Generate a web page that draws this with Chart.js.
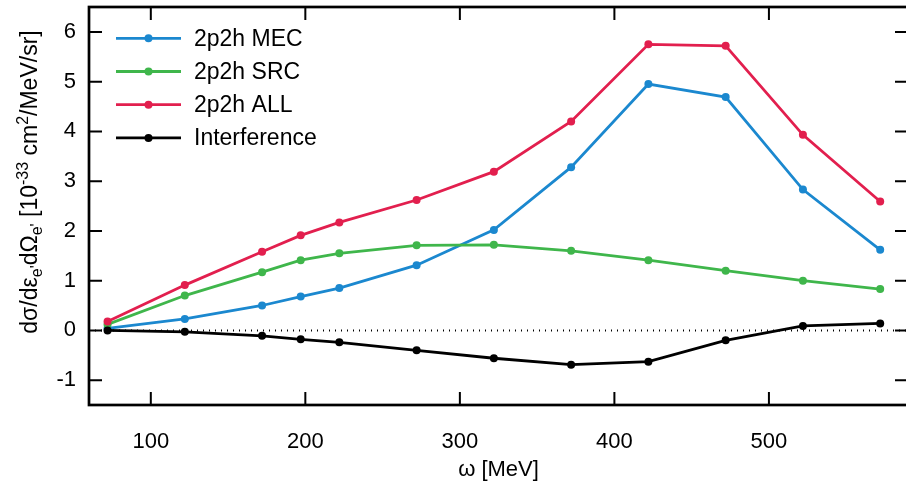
<!DOCTYPE html>
<html>
<head>
<meta charset="utf-8">
<script src="https://cdn.jsdelivr.net/npm/chart.js@4.4.0/dist/chart.umd.min.js"></script>
<style>
  html, body { margin: 0; padding: 0; background: #fff; overflow: hidden; }
  #wrap { width: 912px; height: 486px; }
</style>
</head>
<body>
<div id="wrap"><canvas id="myChart" width="912" height="486"></canvas></div>
<script>
// omega in MeV, cross sections in 10^-33 cm^2/MeV/sr
let omega = [72, 122, 172, 197, 222, 272, 322, 372, 422, 472, 522, 572];
let mecValues = [0.04, 0.23, 0.50, 0.68, 0.85, 1.31, 2.02, 3.28, 4.95, 4.69, 2.83, 1.62];
let srcValues = [0.12, 0.70, 1.17, 1.41, 1.55, 1.71, 1.72, 1.60, 1.41, 1.20, 1.00, 0.83];
let allValues = [0.18, 0.91, 1.58, 1.91, 2.17, 2.62, 3.19, 4.20, 5.75, 5.72, 3.93, 2.59];
let interferenceValues = [0.00, -0.03, -0.11, -0.18, -0.24, -0.40, -0.56, -0.69, -0.63, -0.20, 0.09, 0.14];

let seriesNames = ["2p2h MEC", "2p2h SRC", "2p2h ALL", "Interference"];
let seriesColors = ["#1b88cf", "#3fb64b", "#e21f4e", "#000000"];
let xTickValues = [100, 200, 300, 400, 500];
let yTickValues = [-1, 0, 1, 2, 3, 4, 5, 6];

const FONT = "'Liberation Sans', Arial, sans-serif";

function toPoints(values) {
    return values.map(function (v, i) { return { x: omega[i], y: v }; });
}

let allSeries = [mecValues, srcValues, allValues, interferenceValues];
let datasets = allSeries.map(function (values, i) {
    return {
        label: seriesNames[i],
        data: toPoints(values),
        borderColor: seriesColors[i],
        backgroundColor: seriesColors[i],
        borderWidth: 2.8,
        pointRadius: 4,
        pointBorderWidth: 0,
        pointBackgroundColor: seriesColors[i],
        tension: 0,
        order: 3 - i
    };
});

// dotted zero line, frame with inward ticks, legend, rich y title
const decorations = {
    id: 'decorations',
    beforeDatasetsDraw(chart) {
        const ctx = chart.ctx, a = chart.chartArea;
        const y0 = chart.scales.y.getPixelForValue(0);
        ctx.save();
        ctx.strokeStyle = '#000';
        ctx.lineWidth = 2;
        ctx.setLineDash([1, 5]);
        ctx.beginPath();
        ctx.moveTo(a.left, y0);
        ctx.lineTo(a.right, y0);
        ctx.stroke();
        ctx.restore();
    },
    afterDraw(chart) {
        const ctx = chart.ctx, a = chart.chartArea;
        const xs = chart.scales.x, ys = chart.scales.y;
        ctx.save();
        ctx.strokeStyle = '#000';
        ctx.lineWidth = 2;
        ctx.beginPath();
        xTickValues.forEach(function (v) {
            const px = xs.getPixelForValue(v);
            ctx.moveTo(px, a.bottom); ctx.lineTo(px, a.bottom - 13);
            ctx.moveTo(px, a.top); ctx.lineTo(px, a.top + 13);
        });
        yTickValues.forEach(function (v) {
            const py = ys.getPixelForValue(v);
            ctx.moveTo(a.left, py); ctx.lineTo(a.left + 13, py);
            ctx.moveTo(a.right, py); ctx.lineTo(a.right - 13, py);
        });
        ctx.stroke();
        ctx.lineWidth = 2.7;
        ctx.strokeRect(a.left, a.top, a.right - a.left, a.bottom - a.top);

        // legend
        chart.data.datasets.forEach(function (ds, i) {
            const ly = 38.3 + i * 33.2;
            ctx.strokeStyle = ds.borderColor;
            ctx.lineWidth = 2.8;
            ctx.beginPath();
            ctx.moveTo(116, ly); ctx.lineTo(181, ly);
            ctx.stroke();
            ctx.fillStyle = ds.borderColor;
            ctx.beginPath();
            ctx.arc(148.5, ly, 4, 0, Math.PI * 2);
            ctx.fill();
            ctx.fillStyle = '#000';
            ctx.font = '23px ' + FONT;
            ctx.textBaseline = 'middle';
            ctx.textAlign = 'left';
            ctx.fillText(ds.label, 194, ly + 1);
        });

        // y axis title with sub/superscripts
        const parts = [
            ['dσ/dε', 0], ["e'", 1], ['dΩ', 0], ["e'", 1],
            [' [10', 0], ['-33', 2], [' cm', 0], ['2', 2], ['/MeV/sr]', 0]
        ];
        ctx.fillStyle = '#000';
        ctx.textAlign = 'left';
        ctx.textBaseline = 'alphabetic';
        let total = 0;
        parts.forEach(function (p) {
            ctx.font = (p[1] ? '16px ' : '23px ') + FONT;
            total += ctx.measureText(p[0]).width;
        });
        ctx.translate(37, 182);
        ctx.rotate(-Math.PI / 2);
        let cx = -total / 2;
        parts.forEach(function (p) {
            ctx.font = (p[1] ? '16px ' : '23px ') + FONT;
            const off = p[1] === 1 ? 5 : (p[1] === 2 ? -9 : 0);
            ctx.fillText(p[0], cx, off);
            cx += ctx.measureText(p[0]).width;
        });
        ctx.restore();
    }
};

var ctx = document.getElementById('myChart').getContext('2d');
var chart = new Chart(ctx, {
    type: 'line',
    data: { datasets: datasets },
    options: {
        responsive: false,
        animation: false,
        devicePixelRatio: 1,
        layout: { padding: { top: 7, right: 2, left: 0, bottom: 0 } },
        plugins: { legend: { display: false }, tooltip: { enabled: false } },
        scales: {
            x: {
                type: 'linear',
                min: 60,
                max: 590,
                afterFit: function (s) {
                    s.height = 81;
                    s.paddingLeft = 0; s.paddingRight = 0;
                },
                afterBuildTicks: function (s) { s.ticks = xTickValues.map(function (v) { return { value: v }; }); },
                grid: { display: false, drawTicks: false },
                border: { display: false },
                ticks: { color: '#000', font: { family: FONT, size: 22 }, padding: 24, maxRotation: 0 },
                title: {
                    display: true,
                    text: 'ω [MeV]',
                    color: '#000',
                    font: { family: FONT, size: 22 },
                    padding: { top: 0, bottom: 3 }
                }
            },
            y: {
                type: 'linear',
                min: -1.5,
                max: 6.5,
                afterFit: function (s) {
                    s.width = 89;
                    s.paddingTop = 0; s.paddingBottom = 0;
                },
                afterBuildTicks: function (s) { s.ticks = yTickValues.map(function (v) { return { value: v }; }); },
                grid: { display: false, drawTicks: false },
                border: { display: false },
                ticks: { color: '#000', font: { family: FONT, size: 22 }, padding: 13 }
            }
        }
    },
    plugins: [decorations]
});
</script>
</body>
</html>
